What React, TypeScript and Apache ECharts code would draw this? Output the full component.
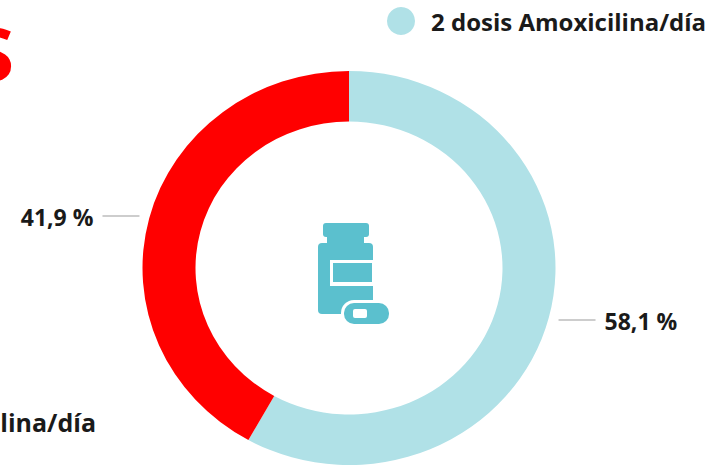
import React, { useEffect, useRef } from "react";
import * as echarts from "echarts";

const names = ["2 dosis Amoxicilina/día", "1 dosis Amoxicilina/día"];
const values = [58.1, 41.9];
const colors = ["#B0E1E7", "#FF0000"];
const FONT = "Open Sans";
const TEXT = "#1a1a1a";
const ICON = "#5BC0CE";

const CX = 349;
const CY = 268;
const R_OUT = 206.5;
const R_IN = 153.5;
const SQUASH = 0.954;
const total = values.reduce((a, b) => a + b, 0);

export default function App() {
  const ref = useRef<HTMLDivElement>(null);
  useEffect(() => {
    const chart = echarts.init(ref.current!, null, { renderer: "svg" });
    const rect = (x: number, y: number, width: number, height: number, r: number, fill: string) => ({
      type: "rect",
      shape: { x, y, width, height, r },
      style: { fill },
    });
    const slice = (i: number) => ({
      type: "custom",
      name: names[i],
      coordinateSystem: "none",
      silent: true,
      itemStyle: { color: colors[i] },
      data: [[values[i]]],
      renderItem: (_: any, api: any) => {
        const before = values.slice(0, i).reduce((a, b) => a + b, 0);
        const v = api.value(0) as number;
        const a0 = (before / total) * Math.PI * 2;
        const a1 = ((before + v) / total) * Math.PI * 2;
        const mid = (a0 + a1) / 2;
        const dir = Math.sin(mid) >= 0 ? 1 : -1;
        const lx = CX + 216.5 * Math.sin(mid);
        const ly = CY - 216.5 * SQUASH * Math.cos(mid);
        return {
          type: "group",
          children: [
            {
              type: "sector",
              x: CX,
              y: CY,
              scaleY: SQUASH,
              shape: {
                cx: 0,
                cy: 0,
                r: R_OUT,
                r0: R_IN,
                startAngle: a0 - Math.PI / 2,
                endAngle: a1 - Math.PI / 2,
                clockwise: true,
              },
              style: { fill: colors[i] },
            },
            {
              type: "line",
              shape: { x1: lx, y1: ly, x2: lx + dir * 37, y2: ly },
              style: { stroke: "#BDBDBD", lineWidth: 1.5, fill: "none" },
            },
            {
              type: "text",
              x: lx + dir * 46,
              y: ly + 1,
              style: {
                text: `${v.toFixed(1).replace(".", ",")} %`,
                fontFamily: FONT,
                fontWeight: "bold",
                fontSize: 23,
                fill: TEXT,
                align: dir > 0 ? "left" : "right",
                verticalAlign: "middle",
              },
            },
          ],
        };
      },
    });
    chart.setOption({
      animation: false,
      legend: {
        data: [names[0]],
        left: 387,
        top: 7,
        icon: "circle",
        itemWidth: 28,
        itemHeight: 28,
        itemGap: 0,
        padding: 0,
        selectedMode: false,
        textStyle: { fontFamily: FONT, fontWeight: "bold", fontSize: 24, color: TEXT, padding: [0, 0, 0, 11] },
      },
      series: [slice(0), slice(1)],
      graphic: [
        {
          type: "text",
          x: 14,
          y: 52,
          style: { text: "S", fontFamily: FONT, fontWeight: "bold", fontSize: 74, fill: "#FF0000", align: "right", verticalAlign: "middle" },
        },
        {
          type: "text",
          x: 96,
          y: 422,
          style: { text: "lina/día", fontFamily: FONT, fontWeight: "bold", fontSize: 25, fill: TEXT, align: "right", verticalAlign: "middle" },
        },
        {
          type: "group",
          children: [
            rect(323, 223, 46, 14, 3, ICON),
            rect(327, 236, 37, 8, 0, ICON),
            rect(318, 243, 55, 71, 4, ICON),
            rect(330, 260, 43, 26, 0, "#FFFFFF"),
            rect(333, 263, 39, 19, 0, ICON),
            rect(341, 300, 51, 27, 13, "#FFFFFF"),
            rect(344, 303, 45, 21, 10, ICON),
            rect(353, 309, 14, 9, 2, "#FFFFFF"),
          ],
        },
      ],
    });
    return () => chart.dispose();
  }, []);
  return <div ref={ref} style={{ position: "absolute", left: 0, top: 0, width: 714, height: 465 }} />;
}
